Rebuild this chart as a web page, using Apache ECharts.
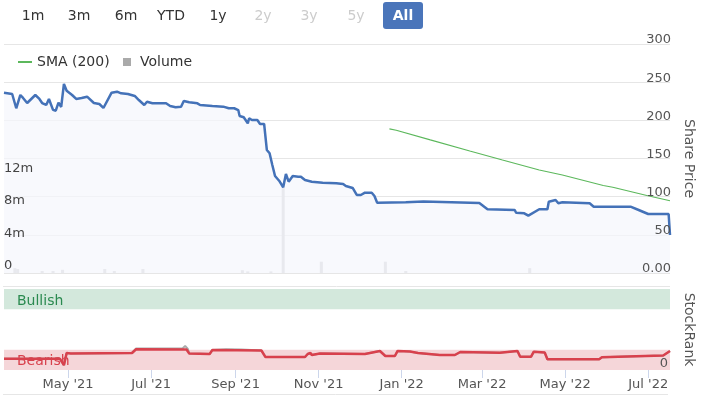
<!DOCTYPE html>
<html><head><meta charset="utf-8">
<script src="https://cdn.jsdelivr.net/npm/echarts@6/dist/echarts.min.js"></script>
<style>html,body{margin:0;padding:0;background:#fff}#c{width:702px;height:395px}</style>
</head><body><div id="c"></div>
<script>
// ---------- DATA ----------
const priceDates = ['2021-03-15','2021-03-21','2021-03-24','2021-03-27','2021-03-29','2021-03-30','2021-04-01','2021-04-07','2021-04-10','2021-04-12','2021-04-15','2021-04-17','2021-04-20','2021-04-22','2021-04-24','2021-04-26','2021-04-28','2021-04-30','2021-05-04','2021-05-07','2021-05-11','2021-05-12','2021-05-15','2021-05-20','2021-05-24','2021-05-27','2021-06-02','2021-06-06','2021-06-09','2021-06-14','2021-06-19','2021-06-22','2021-06-26','2021-06-28','2021-07-02','2021-07-12','2021-07-15','2021-07-19','2021-07-23','2021-07-25','2021-07-29','2021-08-04','2021-08-06','2021-08-15','2021-08-23','2021-08-27','2021-08-31','2021-09-03','2021-09-04','2021-09-07','2021-09-10','2021-09-11','2021-09-13','2021-09-17','2021-09-19','2021-09-22','2021-09-23','2021-09-24','2021-09-26','2021-09-28','2021-09-30','2021-10-03','2021-10-06','2021-10-08','2021-10-10','2021-10-13','2021-10-17','2021-10-19','2021-10-22','2021-10-27','2021-11-04','2021-11-14','2021-11-19','2021-11-21','2021-11-26','2021-11-29','2021-12-02','2021-12-05','2021-12-10','2021-12-12','2021-12-14','2022-01-04','2022-01-05','2022-01-17','2022-01-18','2022-02-27','2022-03-05','2022-03-25','2022-03-26','2022-04-01','2022-04-04','2022-04-12','2022-04-18','2022-04-19','2022-04-24','2022-04-26','2022-04-29','2022-05-09','2022-05-19','2022-05-22','2022-06-18','2022-06-24','2022-07-01','2022-07-16','2022-07-17'];
const priceValues = [236.2,234.5,215.8,233.2,229.3,230.6,222.7,233.2,228.0,222.7,220.1,228.0,213.7,212.6,223.1,217.5,247.6,238.8,233.2,228.0,229.3,231.9,231.0,222.7,221.4,216.2,236.2,237.5,235.4,234.5,231.9,226.6,220.1,224.4,222.3,222.3,218.8,217.1,217.9,225.3,223.6,222.3,220.1,218.8,217.9,215.8,215.8,213.5,205.7,204.0,196.1,202.7,200.4,200.4,195.2,195.2,196.1,161.1,156.8,141.5,127.1,120.9,112.3,129.7,119.6,127.1,126.2,126.2,121.8,119.6,118.3,117.5,116.6,114.0,111.4,102.2,102.2,105.2,105.2,100.9,92.1,92.6,95.0,93.7,91.7,91.7,83.5,82.5,79.0,78.2,75.1,83.5,83.5,93.4,95.6,91.3,92.6,92.1,91.3,86.9,86.9,82.5,77.3,77.3,49.8];

const smaDates = ['2021-12-23','2021-12-28','2022-01-22','2022-02-20','2022-03-16','2022-04-12','2022-04-29','2022-05-29','2022-06-05','2022-06-30','2022-07-17'];
const smaValues = [188.7,187.0,174.3,159.8,148.0,134.9,128.4,114.6,112.3,101.5,94.7];

const volumeDates = ['2021-03-23','2021-03-25','2021-04-12','2021-04-20','2021-04-27','2021-05-28','2021-06-04','2021-06-25','2021-09-06','2021-09-10','2021-09-27','2021-10-06','2021-11-03','2021-12-20','2022-01-04','2022-04-05'];
const volumeValues = [600000,500000,250000,250000,400000,500000,250000,500000,350000,200000,200000,10700000,1400000,1400000,250000,600000];

const rankDates = ['2021-03-15','2021-04-25','2021-04-26','2021-04-28','2021-04-30','2021-05-03','2021-06-17','2021-06-20','2021-07-27','2021-07-29','2021-08-13','2021-08-15','2021-09-20','2021-09-23','2021-10-22','2021-10-24','2021-10-26','2021-10-27','2021-11-02','2021-12-05','2021-12-16','2021-12-20','2021-12-27','2021-12-29','2022-01-07','2022-01-13','2022-01-29','2022-02-09','2022-02-13','2022-03-14','2022-03-27','2022-03-29','2022-04-06','2022-04-08','2022-04-16','2022-04-18','2022-05-26','2022-05-28','2022-06-09','2022-07-12','2022-07-17'];
const rankValues = [14,14,16,6,21,20.4,21,25.6,25.3,20.4,19.8,24.7,24.1,16,16,19.8,21,18.5,20.4,19.8,23.5,17.3,17.3,23.5,22.8,21,18.5,18.5,22.2,21.4,23.5,16.4,16.4,22.6,21.6,13.2,13.2,15.7,16.4,17.9,23.5];

const rankGreyDates = ['2021-03-15','2021-04-25','2021-04-26','2021-04-28','2021-04-30','2021-05-03','2021-06-17','2021-06-20','2021-07-24','2021-07-26','2021-07-28','2021-07-29','2021-08-13','2021-08-15','2021-08-25','2021-09-05','2021-09-20','2021-09-23','2021-10-22','2021-10-24','2021-10-26','2021-10-27','2021-11-02','2021-12-05','2021-12-16','2021-12-20','2021-12-27','2021-12-29','2022-01-07','2022-01-13','2022-01-29','2022-02-09','2022-02-13','2022-03-14','2022-03-27','2022-03-29','2022-04-06','2022-04-08','2022-04-16','2022-04-18','2022-05-26','2022-05-28','2022-06-09','2022-07-12','2022-07-17'];
const rankGreyValues = [14,14,16,6,21,20.4,21,26.6,26.6,29.6,26.0,20.4,19.8,24.7,25.7,25.3,24.1,16,16,19.8,21,18.5,20.4,19.8,23.5,17.3,17.3,23.5,22.8,21,18.5,18.5,22.2,21.4,23.5,16.4,16.4,22.6,21.6,13.2,13.2,15.7,16.4,17.9,23.5];

const tickDates = ['2021-05-01','2021-07-01','2021-09-01','2021-11-01','2022-01-01','2022-03-01','2022-05-01','2022-07-01'];
const axisStart = '2021-03-15';
const axisEnd = '2022-07-17';
const priceTicks = [0,50,100,150,200,250,300];
const volumeTickLabels = ['0','4m','8m','12m'];
const rankTickLabels = ['0'];
const rankBands = [{name:'Bullish', from:75, to:100}, {name:'Bearish', from:0, to:25}];
const rangeButtons = ['1m','3m','6m','YTD','1y','2y','3y','5y','All'];
const rangeEnabled = [true,true,true,true,true,false,false,false,true];

// ---------- HELPERS ----------
const FONT = 'DejaVu Sans';
const months = ['Jan','Feb','Mar','Apr','May','Jun','Jul','Aug','Sep','Oct','Nov','Dec'];
function toTime(s){ const p = s.split('-').map(Number); return new Date(p[0], p[1]-1, p[2]).getTime(); }
function zip(ds, vs){ return ds.map((d,i)=>[toTime(d), vs[i]]); }

const chart = echarts.init(document.getElementById('c'), null, {renderer:'canvas'});

// button layout (UI chrome)
const btnCenters = [33,79,126,171,218,263,309,356,403];
const graphics = [];
rangeButtons.forEach((b,i)=>{
  const isAll = b === 'All';
  if (isAll) {
    graphics.push({type:'rect', x: btnCenters[i]-20, y: 2, shape:{width:40, height:27, r:3}, style:{fill:'#4a75ba'}, z:10});
  }
  graphics.push({type:'text', x: btnCenters[i], y: 16, z: 11,
    style:{text:b, fill: isAll ? '#fff' : (rangeEnabled[i] ? '#333' : '#ccc'), font: (isAll?'bold ':'') + '14px "' + FONT + '"', align:'center', verticalAlign:'middle'}});
});
graphics.push({type:'line', shape:{x1:3, y1:286.5, x2:670, y2:286.5}, style:{stroke:'#e6e6e6', lineWidth:1}});
graphics.push({type:'line', shape:{x1:3, y1:394.5, x2:668, y2:394.5}, style:{stroke:'#e6e6e6', lineWidth:1}});

const xFmt = v => { const d = new Date(v); return months[d.getMonth()] + " '" + String(d.getFullYear()).slice(2); };
const priceFmt = v => priceTicks.indexOf(v) < 0 ? '' : (v === 0 ? '0.00' : String(v));

const option = {
  animation: false,
  textStyle: {fontFamily: FONT},
  graphic: graphics,
  legend: [
    {data:[{name:'SMA (200)', icon:'rect'}], left: 13, top: 50, itemWidth: 14, itemHeight: 2,
      textStyle:{fontSize:14, color:'#333', fontFamily: FONT}},
    {data:[{name:'Volume', icon:'rect', itemStyle:{color:'#aaaaaa'}}], left: 118, top: 50, itemWidth: 8, itemHeight: 8,
      textStyle:{fontSize:14, color:'#333', fontFamily: FONT, padding:[0,0,0,4]}}
  ],
  grid: [
    {left: 4, right: 32, top: 44, height: 229, outerBoundsMode: 'none'},
    {left: 4, right: 32, top: 289, height: 81, outerBoundsMode: 'none'}
  ],
  xAxis: [
    {type:'value', gridIndex:0, min: toTime(axisStart), max: toTime(axisEnd),
      axisLabel:{show:false}, axisTick:{show:false}, axisLine:{show:false}, splitLine:{show:false}},
    {type:'value', gridIndex:1, min: toTime(axisStart), max: toTime(axisEnd),
      axisLine:{show:false},
      axisTick:{show:true, length:8, lineStyle:{color:'#ccd6eb'}, customValues: tickDates.map(toTime)},
      axisLabel:{show:true, fontSize:13, color:'#555', fontFamily: FONT, margin:8,
        customValues: tickDates.map(toTime), formatter: xFmt},
      splitLine:{show:false}}
  ],
  yAxis: [
    // 0: price scale + grid lines (behind series)
    {type:'value', gridIndex:0, position:'right', min:0, max:300, interval:50,
      axisLine:{show:false}, axisTick:{show:false}, axisLabel:{show:false},
      splitLine:{show:true, lineStyle:{color:'#e6e6e6'}}},
    // 1: volume scale (labels on top)
    {type:'value', gridIndex:0, position:'left', min:0, max:28450000, interval:4000000, z:10,
      axisLine:{show:false}, axisTick:{show:false}, splitLine:{show:false},
      axisLabel:{inside:true, margin:0, fontSize:13, color:'#444', fontFamily: FONT, verticalAlign:'bottom', lineHeight:15, align:'left',
        formatter: v => { const i = Math.round(v/4000000); return i < volumeTickLabels.length ? volumeTickLabels[i] : ''; }}},
    // 2: stockrank
    {type:'value', gridIndex:1, position:'right', min:0, max:100, interval:25, z:10,
      name:'StockRank', nameLocation:'middle', nameRotate:-90, nameGap:12,
      nameTextStyle:{fontSize:14, color:'#555', fontFamily: FONT},
      axisLine:{show:false}, axisTick:{show:false}, splitLine:{show:false},
      axisLabel:{show:true, inside:true, margin:2, fontSize:13, color:'#555', fontFamily: FONT, verticalAlign:'bottom', lineHeight:12,
        showMinLabel:true, formatter: v => { const i = Math.round(v/25); return i < rankTickLabels.length ? rankTickLabels[i] : ''; }}},
    // 3: price labels + name (on top of series)
    {type:'value', gridIndex:0, position:'right', min:0, max:300, interval:50, z:10,
      name:'Share Price', nameLocation:'middle', nameRotate:-90, nameGap:12,
      nameTextStyle:{fontSize:14, color:'#555', fontFamily: FONT},
      axisLine:{show:false}, axisTick:{show:false}, splitLine:{show:false},
      axisLabel:{inside:true, margin:-1, fontSize:13, color:'#555', fontFamily: FONT, verticalAlign:'bottom', lineHeight:8, formatter: priceFmt}}
  ],
  series: [
    {name:'Volume', type:'bar', xAxisIndex:0, yAxisIndex:1, data: zip(volumeDates, volumeValues),
      barWidth:3, itemStyle:{color:'#c8c8cc'}, z:2},
    {name:'Share Price', type:'line', xAxisIndex:0, yAxisIndex:0, data: zip(priceDates, priceValues),
      symbol:'none', lineStyle:{color:'#4472b8', width:2.5}, itemStyle:{color:'#4472b8'},
      areaStyle:{color:'#f5f7fc', origin:'start'}, z:3},
    {name:'SMA (200)', type:'line', xAxisIndex:0, yAxisIndex:0, data: zip(smaDates, smaValues),
      symbol:'none', lineStyle:{color:'#5cb85c', width:1.2}, itemStyle:{color:'#5cb85c'}, z:4},
    {name:'StockRank Grey', type:'line', xAxisIndex:1, yAxisIndex:2, data: zip(rankGreyDates, rankGreyValues),
      symbol:'none', lineStyle:{color:'#aaaaaa', width:2}, z:3},
    {name:'StockRank', type:'line', xAxisIndex:1, yAxisIndex:2, data: zip(rankDates, rankValues),
      symbol:'none', lineStyle:{color:'#d8414d', width:2.5}, z:4,
      markArea:{silent:true,
        data: rankBands.map(b => [
          {yAxis:b.from, itemStyle:{color: b.name==='Bullish' ? '#d3e8dc' : '#f5d6d9'},
            label:{show:true, formatter:b.name, position:'insideLeft', offset:[8, b.name==='Bullish'?2:1], fontSize:14, fontFamily: FONT,
              color: b.name==='Bullish' ? '#2b8a50' : '#d8414d'}},
          {yAxis:b.to}
        ])}}
  ]
};
chart.setOption(option);
</script>
</body></html>
